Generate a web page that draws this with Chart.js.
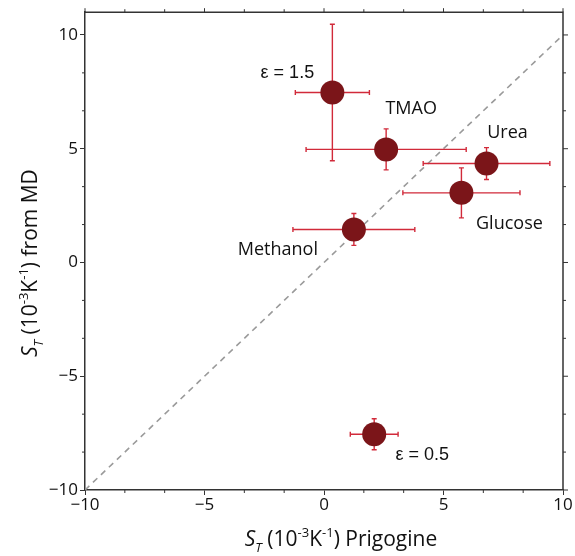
<!DOCTYPE html>
<html>
<head>
<meta charset="utf-8">
<script src="https://cdn.jsdelivr.net/npm/chart.js@4.4.1/dist/chart.umd.min.js"></script>
<style>
  html, body { margin: 0; padding: 0; background: #fff; }
  #wrap { width: 575px; height: 556px; }
</style>
</head>
<body>
<div id="wrap"><canvas id="chart" width="575" height="556"></canvas></div>
<script>
// data
const names = ['ε = 1.5', 'TMAO', 'Urea', 'Glucose', 'Methanol', 'ε = 0.5'];
const xVals = [0.35, 2.6, 6.8, 5.75, 1.25, 2.1];
const yVals = [7.47, 4.97, 4.35, 3.06, 1.45, -7.55];
const xErr = [1.55, 3.35, 2.65, 2.45, 2.55, 1.0];
const yErr = [3.0, 0.9, 0.7, 1.1, 0.7, 0.68];
const xTicks = [-10, -5, 0, 5, 10];
const yTicks = [-10, -5, 0, 5, 10];
const minorStep = 5 / 3;

// label placement, pixels from the marker centre (text centre, baseline)
const labelOffsets = [[-45, -15], [25, -35], [21, -26], [48, 36], [-76, 26], [48, 26]];

const markerColor = '#7b1519';
const errColor = '#d12a3a';
const axisColor = '#333';
const tickFont = { family: 'Open Sans', size: 17 };

const fmt = v => v < 0 ? '\u2212' + Math.abs(v) : String(v);

// draws mixed text runs (italic, sub/superscript) centred on x
function drawRich(ctx, parts, x, y, size) {
    const runs = parts.map(p => {
        const s = p.small ? size * 0.62 : size;
        const font = (p.italic ? 'italic ' : '') + s + 'px "Open Sans"';
        ctx.font = font;
        return { ...p, font, w: ctx.measureText(p.t).width };
    });
    const total = runs.reduce((a, r) => a + r.w, 0);
    let cx = x - total / 2;
    ctx.textAlign = 'left';
    ctx.textBaseline = 'alphabetic';
    runs.forEach(r => {
        ctx.font = r.font;
        let dy = 0;
        if (r.sub) dy = size * 0.3;
        if (r.sup) dy = -size * 0.42;
        ctx.fillText(r.t, cx, y + dy);
        cx += r.w;
    });
}

const figurePlugin = {
    id: 'figure',
    beforeDatasetDraw(chart, args) {
        if (args.index !== 1) return;
        const { ctx, scales: { x, y } } = chart;
        ctx.save();
        ctx.strokeStyle = errColor;
        ctx.lineWidth = 1.4;
        const cap = 2.5;
        xVals.forEach((xv, i) => {
            const px = x.getPixelForValue(xv);
            const py = y.getPixelForValue(yVals[i]);
            const x0 = x.getPixelForValue(xv - xErr[i]);
            const x1 = x.getPixelForValue(xv + xErr[i]);
            const y0 = y.getPixelForValue(yVals[i] - yErr[i]);
            const y1 = y.getPixelForValue(yVals[i] + yErr[i]);
            ctx.beginPath();
            ctx.moveTo(x0, py); ctx.lineTo(x1, py);
            ctx.moveTo(x0, py - cap); ctx.lineTo(x0, py + cap);
            ctx.moveTo(x1, py - cap); ctx.lineTo(x1, py + cap);
            ctx.moveTo(px, y0); ctx.lineTo(px, y1);
            ctx.moveTo(px - cap, y0); ctx.lineTo(px + cap, y0);
            ctx.moveTo(px - cap, y1); ctx.lineTo(px + cap, y1);
            ctx.stroke();
        });
        ctx.restore();
    },
    afterDraw(chart) {
        const { ctx, chartArea: a, scales: { x, y } } = chart;
        ctx.save();
        // top and right frame
        ctx.strokeStyle = axisColor;
        ctx.lineWidth = 1.5;
        ctx.beginPath();
        ctx.moveTo(a.left, a.top); ctx.lineTo(a.right, a.top); ctx.lineTo(a.right, a.bottom);
        ctx.stroke();

        // tick marks: majors on top/right, minors everywhere
        ctx.lineWidth = 1;
        ctx.beginPath();
        for (let v = -10; v <= 10.001; v += minorStep) {
            const major = Math.abs(v / 5 - Math.round(v / 5)) < 1e-6;
            const px = x.getPixelForValue(v);
            if (!major) {
                ctx.moveTo(px, a.bottom); ctx.lineTo(px, a.bottom + 3);
            }
            ctx.moveTo(px, a.top); ctx.lineTo(px, a.top - (major ? 4 : 3));
        }
        for (let v = -10; v <= 11; v += minorStep) {
            const major = Math.abs(v / 5 - Math.round(v / 5)) < 1e-6;
            const py = y.getPixelForValue(v);
            if (!major) {
                ctx.moveTo(a.left, py); ctx.lineTo(a.left - 3, py);
            }
            ctx.moveTo(a.right, py); ctx.lineTo(a.right + (major ? 5 : 3), py);
        }
        ctx.stroke();

        // point labels
        ctx.fillStyle = '#111';
        ctx.textAlign = 'center';
        ctx.textBaseline = 'alphabetic';
        names.forEach((n, i) => {
            const px = x.getPixelForValue(xVals[i]);
            const py = y.getPixelForValue(yVals[i]);
            ctx.font = n.startsWith('ε') ? '18px "Liberation Sans"' : '18px "Open Sans"';
            ctx.fillText(n, px + labelOffsets[i][0], py + labelOffsets[i][1]);
        });

        // axis titles
        const unit = [
            { t: 'S', italic: true },
            { t: 'T', italic: true, small: true, sub: true },
            { t: ' (10' },
            { t: '-3', small: true, sup: true },
            { t: 'K' },
            { t: '-1', small: true, sup: true }
        ];
        drawRich(ctx, [...unit, { t: ') Prigogine' }], (a.left + a.right) / 2 + 17, 546, 21);
        ctx.translate(37, (a.top + a.bottom) / 2 + 12);
        ctx.rotate(-Math.PI / 2);
        drawRich(ctx, [...unit, { t: ') from MD' }], 0, 0, 21);
        ctx.restore();
    }
};

new Chart(document.getElementById('chart'), {
    data: {
        datasets: [{
            type: 'line',
            data: [{ x: -10, y: -10 }, { x: 10, y: 10 }],
            borderColor: '#9a9a9a',
            borderWidth: 1.6,
            borderDash: [6, 5],
            pointRadius: 0,
            order: 2
        }, {
            type: 'scatter',
            data: xVals.map((v, i) => ({ x: v, y: yVals[i] })),
            backgroundColor: markerColor,
            borderWidth: 0,
            pointRadius: 12,
            pointHoverRadius: 12,
            order: 1
        }]
    },
    options: {
        responsive: false,
        devicePixelRatio: 1,
        animation: false,
        layout: { padding: { top: 12, right: 11, left: 0, bottom: 0 } },
        plugins: { legend: { display: false }, tooltip: { enabled: false } },
        scales: {
            x: {
                type: 'linear',
                min: -10,
                max: 10,
                afterBuildTicks: s => { s.ticks = xTicks.map(v => ({ value: v })); },
                afterFit: s => { s.height = 66; },
                ticks: { font: tickFont, color: '#111', padding: 0, maxRotation: 0, callback: fmt },
                grid: { drawOnChartArea: false, tickLength: 5, color: axisColor },
                border: { color: axisColor, width: 1.5 }
            },
            y: {
                type: 'linear',
                min: -10,
                max: 11,
                afterBuildTicks: s => { s.ticks = yTicks.map(v => ({ value: v })); },
                afterFit: s => { s.width = 85; },
                ticks: { font: tickFont, color: '#111', padding: 2, callback: fmt },
                grid: { drawOnChartArea: false, tickLength: 5, color: axisColor },
                border: { color: axisColor, width: 1.5 }
            }
        }
    },
    plugins: [figurePlugin]
});
</script>
</body>
</html>
